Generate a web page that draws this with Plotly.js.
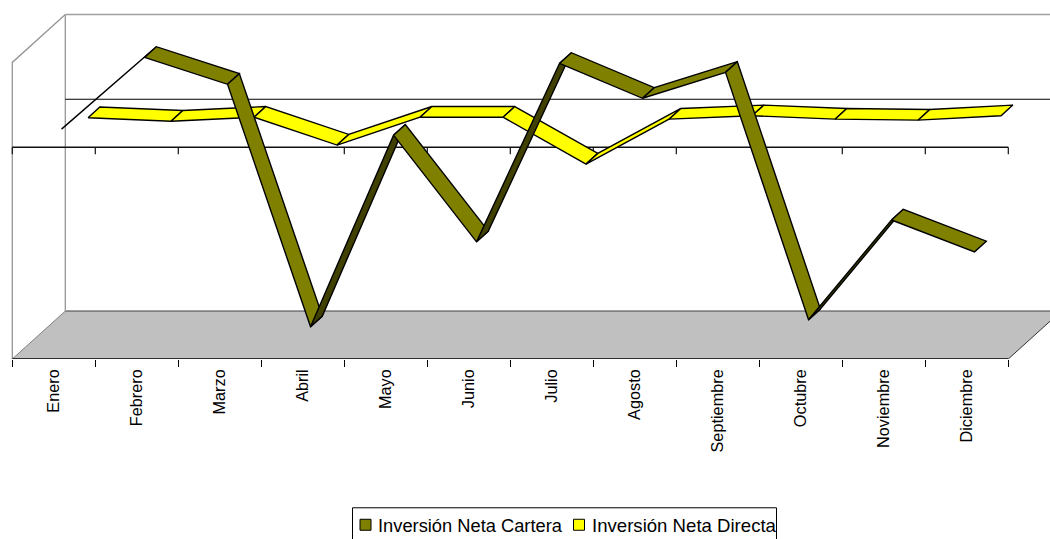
<!DOCTYPE html>
<html>
<head>
<meta charset="utf-8">
<script src="https://cdn.plot.ly/plotly-3.0.1.min.js"></script>
<style>html,body{margin:0;padding:0;background:#fff;overflow:hidden}</style>
</head>
<body>
<div id="chart" style="width:1050px;height:539px"></div>
<script>
const months = ['Enero','Febrero','Marzo','Abril','Mayo','Junio','Julio','Agosto','Septiembre','Octubre','Noviembre','Diciembre'];
const cartera = [130, 977, 659, -2201, 59, -1200, 906, 494, 800, -2119, -942, -1318];
const directa = [-18, -59, -12, -341, -12, -12, -565, -35, 5, -35, -47, 5];
const seriesNames = ['Inversión Neta Cartera', 'Inversión Neta Directa'];

// 3-D box of the chart, in axis units
const axisMin = -2500, axisMax = 1000;
const perPx = (axisMax - axisMin) / 297;
const depthX = 53 / 83, depthY = 48 * perPx;
const n = months.length;
const left = -0.5, right = n - 0.5;
const P = (i, v, d) => [i + d * depthX, v + d * depthY];

const traces = [];
function poly(pts, fill, lineColor, lineWidth) {
  traces.push({
    type: 'scatter', mode: 'lines', hoverinfo: 'skip', showlegend: false, cliponaxis: false,
    x: pts.map(p => p ? p[0] : null), y: pts.map(p => p ? p[1] : null),
    fill: fill ? 'toself' : 'none', fillcolor: fill || undefined,
    line: {color: lineColor, width: lineWidth}
  });
}
// floor
poly([P(left,axisMin,0),P(right,axisMin,0),P(right,axisMin,1),P(left,axisMin,1),P(left,axisMin,0)], '#C0C0C0', 'rgba(0,0,0,0)', 0);
poly([P(right,axisMin,0),P(right,axisMin,1)], null, '#333333', 1);
poly([P(left,axisMin,0),P(left,axisMin,1)], null, '#808080', 1);
poly([P(left,axisMin,1),P(right,axisMin,1)], null, '#808080', 1.8);
// walls
poly([P(left,axisMin,0),P(left,axisMax,0),P(left,axisMax,1),P(left,axisMin,1)], null, '#969696', 1.3);
poly([P(left,axisMax,1),P(right,axisMax,1)], null, '#A0A0A0', 1.3);
// zero line on the back wall
poly([P(left,0,1),P(right,0,1)], null, '#000000', 1.1);
// zero line in front, with its ticks
poly([P(left,0,0),P(right,0,0)], null, '#111111', 1.5);
const zeroTicks = [];
for (let i = 0; i <= n; i++) { zeroTicks.push([left+i,0],[left+i,-7*perPx],null); }
poly(zeroTicks, null, '#111111', 1.2);
// front edge of the floor
poly([P(left,axisMin,0),P(right,axisMin,0)], null, '#000000', 1.5);

function ribbon(values, dFront, bright, dark) {
  const dBack = dFront + 11.8 / 53;
  for (let i = 0; i < values.length - 1; i++) {
    const rise = (values[i+1] - values[i]) / perPx / 83;
    const face = rise > 48 / 53 ? dark : bright;
    poly([P(i,values[i],dFront),P(i+1,values[i+1],dFront),P(i+1,values[i+1],dBack),P(i,values[i],dBack),P(i,values[i],dFront)], face, '#000000', 1.4);
  }
}
ribbon(directa, 0.646, '#FFFF00', '#808000');
ribbon(cartera, 0.146, '#808000', '#404000');

const plotBottom = 359.5;
const py = p => 1 - p / plotBottom;
const px = p => p / 1050;
const swatch = (x0, col) => ({type:'rect', xref:'paper', yref:'paper', x0:px(x0), x1:px(x0+11), y0:py(531), y1:py(520), fillcolor:col, line:{color:'#000',width:1}});

const layout = {
  width: 1050, height: 539,
  margin: {l:0, r:0, t:0, b:539-plotBottom, pad:0},
  paper_bgcolor: '#fff', plot_bgcolor: '#fff',
  showlegend: false,
  font: {family:'"Liberation Sans", Arial, sans-serif', size:16, color:'#000'},
  xaxis: {
    type:'linear', range:[left - 12.3/83, left + (1050-12.3)/83], showgrid:false, zeroline:false, showline:false,
    tickmode:'array', tickvals:months.map((m,i)=>i), ticktext:months, tickangle:-90,
    ticks:'', ticklabelstandoff:6, tickfont:{size:16.3, color:'#000'},
    minor:{tickmode:'array', tickvals:Array.from({length:n+1},(_,i)=>left+i), ticks:'outside', ticklen:7, tickwidth:1.2, tickcolor:'#000', showgrid:false}
  },
  yaxis: {
    range:[axisMin, axisMax + 62.5*perPx], visible:false, showgrid:false, zeroline:false
  },
  shapes: [
    {type:'rect', xref:'paper', yref:'paper', x0:px(352.5), x1:px(776.5), y0:py(548), y1:py(508.5), fillcolor:'#fff', line:{color:'#000',width:1}},
    swatch(360,'#808000'), swatch(573.5,'#FFFF00')
  ],
  annotations: [
    {text:seriesNames[0], xref:'paper', yref:'paper', x:px(378), y:py(526.5), xanchor:'left', yanchor:'middle', showarrow:false, font:{size:18.3,color:'#000'}, borderpad:0, xshift:-1},
    {text:seriesNames[1], xref:'paper', yref:'paper', x:px(592), y:py(526.5), xanchor:'left', yanchor:'middle', showarrow:false, font:{size:18.6,color:'#000'}, borderpad:0, xshift:-1}
  ]
};
Plotly.newPlot('chart', traces, layout, {staticPlot:true, displayModeBar:false});
</script>
</body>
</html>
